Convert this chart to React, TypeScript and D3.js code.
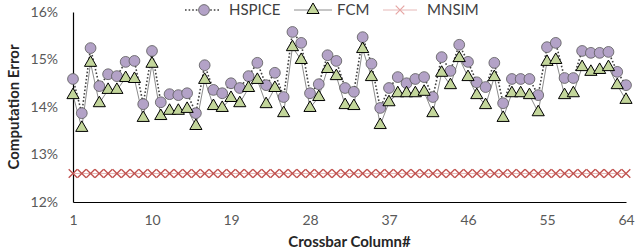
import React, { useEffect, useRef } from 'react';
import * as d3 from 'd3';

// Computation error (%) per crossbar column
const columns = d3.range(1, 65);
const hspice = [
  14.59, 13.87, 15.24, 14.44, 14.69, 14.65, 14.95, 14.97, 14.06, 15.18,
  14.1, 14.27, 14.25, 14.29, 13.87, 14.88, 14.36, 14.29, 14.5, 14.4,
  14.65, 14.93, 14.46, 14.72, 14.21, 15.58, 15.35, 14.29, 14.48, 15.09,
  14.97, 14.4, 14.32, 15.47, 14.91, 13.98, 14.4, 14.63, 14.5, 14.59,
  14.63, 14.21, 15.05, 14.76, 15.31, 14.95, 14.52, 14.42, 14.93, 14.08,
  14.59, 14.59, 14.59, 14.25, 15.26, 15.35, 14.61, 14.61, 15.18, 15.14,
  15.14, 15.16, 14.74, 14.46,
];
const fcm = [
  14.25, 13.56, 14.93, 14.08, 14.36, 14.36, 14.61, 14.59, 13.77, 14.91,
  13.81, 13.92, 13.92, 13.96, 13.6, 14.57, 14.02, 13.98, 14.19, 14.08,
  14.4, 14.57, 14.06, 14.4, 13.87, 15.26, 14.99, 13.98, 14.21, 14.8,
  14.65, 14.04, 14.02, 15.22, 14.63, 13.62, 14.1, 14.29, 14.29, 14.29,
  14.32, 13.87, 14.72, 14.46, 15.03, 14.63, 14.25, 14.04, 14.63, 13.77,
  14.29, 14.29, 14.25, 13.89, 14.95, 14.99, 14.25, 14.29, 14.84, 14.74,
  14.78, 14.84, 14.46, 14.15,
];
const mnsim = columns.map(() => 12.6);
const xTicks = [1, 10, 19, 28, 37, 46, 55, 64];
const yTicks = [12, 13, 14, 15, 16];

const FONT = 'Lato, "Open Sans", sans-serif';

const App = () => {
  const svgRef = useRef(null);

  const width = 640;
  const height = 250;
  const plot = { left: 73, right: 626, top: 12, bottom: 202 };

  useEffect(() => {
    const svg = d3.select(svgRef.current);
    svg.selectAll('*').remove();

    const x = d3.scaleLinear().domain([1, 64]).range([plot.left, plot.right]);
    const y = d3.scaleLinear().domain([12, 16]).range([plot.bottom, plot.top]);

    // axes (no tick marks, only labels)
    const xAxis = svg.append('g')
      .attr('transform', `translate(0,${plot.bottom})`)
      .call(d3.axisBottom(x).tickValues(xTicks).tickSize(0).tickPadding(13));
    xAxis.select('.domain').attr('stroke', '#000').attr('stroke-width', 1.2);
    xAxis.selectAll('text')
      .attr('font-family', FONT).attr('font-size', 14).attr('fill', '#595959');

    const yAxis = svg.append('g')
      .attr('transform', `translate(${plot.left},0)`)
      .call(d3.axisLeft(y).tickValues(yTicks).tickSize(0).tickPadding(15).tickFormat(d => `${d}%`));
    yAxis.select('.domain').attr('stroke', '#000').attr('stroke-width', 1.2);
    yAxis.selectAll('text')
      .attr('font-family', FONT).attr('font-size', 14).attr('fill', '#595959');

    // axis titles
    svg.append('text')
      .attr('transform', `translate(19,${(plot.top + plot.bottom) / 2}) rotate(-90)`)
      .attr('text-anchor', 'middle')
      .attr('font-family', FONT).attr('font-size', 15).attr('font-weight', 'bold')
      .attr('fill', '#262626')
      .text('Computation Error');

    svg.append('text')
      .attr('x', (plot.left + plot.right) / 2)
      .attr('y', 247)
      .attr('text-anchor', 'middle')
      .attr('font-family', FONT).attr('font-size', 15).attr('font-weight', 'bold')
      .attr('fill', '#262626')
      .text('Crossbar Column#');

    const line = d3.line<number>()
      .x((d, i) => x(columns[i]))
      .y(d => y(d));

    const crossPath = (s: number) => `M${-s},${-s}L${s},${s}M${-s},${s}L${s},${-s}`;
    const triangle = d3.symbol().type(d3.symbolTriangle).size(64)();

    // MNSIM
    svg.append('path')
      .attr('d', line(mnsim))
      .attr('fill', 'none')
      .attr('stroke', '#e6b8b7')
      .attr('stroke-width', 1);
    svg.append('g').selectAll('path')
      .data(mnsim)
      .enter()
      .append('path')
      .attr('transform', (d, i) => `translate(${x(columns[i])},${y(d)})`)
      .attr('d', crossPath(4.3))
      .attr('stroke', '#c0504d')
      .attr('stroke-width', 1.3)
      .attr('fill', 'none');

    // HSPICE
    svg.append('path')
      .attr('d', line(hspice))
      .attr('fill', 'none')
      .attr('stroke', '#404040')
      .attr('stroke-width', 1.6)
      .attr('stroke-dasharray', '1.6,2');

    // FCM
    svg.append('path')
      .attr('d', line(fcm))
      .attr('fill', 'none')
      .attr('stroke', '#8c8c8c')
      .attr('stroke-width', 1);

    svg.append('g').selectAll('circle')
      .data(hspice)
      .enter()
      .append('circle')
      .attr('cx', (d, i) => x(columns[i]))
      .attr('cy', d => y(d))
      .attr('r', 5.4)
      .attr('fill', '#b3a2c7')
      .attr('stroke', '#595959')
      .attr('stroke-width', 0.8);

    svg.append('g').selectAll('path')
      .data(fcm)
      .enter()
      .append('path')
      .attr('transform', (d, i) => `translate(${x(columns[i])},${y(d)})`)
      .attr('d', triangle)
      .attr('fill', '#c3d69b')
      .attr('stroke', '#000')
      .attr('stroke-width', 1);

    // legend
    const legendY = 10;
    const legend = svg.append('g');

    legend.append('line')
      .attr('x1', 185).attr('x2', 220).attr('y1', legendY).attr('y2', legendY)
      .attr('stroke', '#404040').attr('stroke-width', 1.6).attr('stroke-dasharray', '1.6,2');
    legend.append('circle')
      .attr('cx', 204).attr('cy', legendY).attr('r', 5.4)
      .attr('fill', '#b3a2c7').attr('stroke', '#595959').attr('stroke-width', 0.8);

    legend.append('line')
      .attr('x1', 294).attr('x2', 332).attr('y1', legendY).attr('y2', legendY)
      .attr('stroke', '#8c8c8c').attr('stroke-width', 1);
    legend.append('path')
      .attr('transform', `translate(313,${legendY})`)
      .attr('d', triangle)
      .attr('fill', '#c3d69b').attr('stroke', '#000').attr('stroke-width', 1);

    legend.append('line')
      .attr('x1', 383).attr('x2', 417).attr('y1', legendY).attr('y2', legendY)
      .attr('stroke', '#e6b8b7').attr('stroke-width', 1);
    legend.append('path')
      .attr('transform', `translate(400,${legendY})`)
      .attr('d', crossPath(4.3))
      .attr('stroke', '#e6a5a3').attr('stroke-width', 1.2).attr('fill', 'none');

    [['HSPICE', 229], ['FCM', 337], ['MNSIM', 427]].forEach(([label, lx]) => {
      legend.append('text')
        .attr('x', lx as number)
        .attr('y', legendY)
        .attr('dy', '0.36em')
        .attr('font-family', FONT).attr('font-size', 15)
        .attr('fill', '#404040')
        .text(label as string);
    });
  }, []);

  return (
    <svg
      ref={svgRef}
      width={width}
      height={height}
      style={{ position: 'absolute', left: 0, top: 0, background: '#fff' }}
    ></svg>
  );
};

export default App;
